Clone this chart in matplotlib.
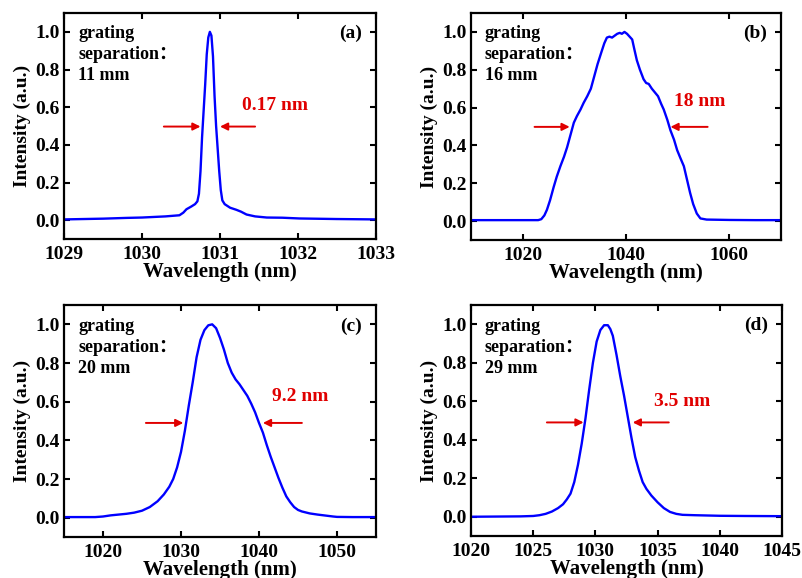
import matplotlib
matplotlib.use("Agg")
import matplotlib.pyplot as plt

plt.rcParams['font.family'] = ['Liberation Serif', 'Noto Sans CJK SC']
plt.rcParams['font.weight'] = 'bold'

# Panel (a): grating separation 11 mm
wl_a = [1029.0, 1029.5, 1029.8, 1030.0, 1030.3, 1030.48, 1030.53, 1030.57, 1030.63, 1030.68,
        1030.71, 1030.73, 1030.75, 1030.77, 1030.79, 1030.81, 1030.83, 1030.85, 1030.87, 1030.89,
        1030.91, 1030.93, 1030.95, 1030.97, 1030.99, 1031.01, 1031.03, 1031.06, 1031.13, 1031.21,
        1031.27, 1031.34, 1031.45, 1031.6, 1031.8, 1032.02, 1032.5, 1033.0]
int_a = [0.004, 0.008, 0.012, 0.014, 0.02, 0.026, 0.04, 0.058, 0.072, 0.085,
         0.10, 0.14, 0.26, 0.44, 0.58, 0.72, 0.88, 0.97, 1.0, 0.98,
         0.87, 0.66, 0.50, 0.38, 0.26, 0.16, 0.105, 0.085, 0.066, 0.055,
         0.045, 0.03, 0.02, 0.014, 0.013, 0.009, 0.006, 0.004]

# Panel (b): grating separation 16 mm
wl_b = [1010, 1015, 1020, 1023.0, 1023.6, 1024.2, 1024.7, 1025.3, 1026.0, 1026.6,
        1027.3, 1028.0, 1028.6, 1029.3, 1029.9, 1030.5, 1031.2, 1031.8, 1032.5, 1033.2,
        1033.8, 1034.5, 1035.2, 1035.8, 1036.3, 1036.8, 1037.3, 1037.8, 1038.3, 1038.8,
        1039.2, 1039.7, 1040.2, 1040.7, 1041.2, 1041.6, 1042.1, 1042.7, 1043.4, 1043.9,
        1044.4, 1045.0, 1045.6, 1046.2, 1046.8, 1047.3, 1048.0, 1048.6, 1049.3, 1049.9,
        1050.5, 1051.2, 1051.8, 1052.4, 1053.0, 1053.7, 1054.4, 1055.6, 1060, 1065, 1070]
int_b = [0.005, 0.005, 0.005, 0.005, 0.01, 0.03, 0.06, 0.11, 0.18, 0.235,
         0.29, 0.34, 0.39, 0.46, 0.52, 0.555, 0.59, 0.625, 0.66, 0.70,
         0.76, 0.83, 0.89, 0.94, 0.97, 0.975, 0.97, 0.98, 0.99, 0.995,
         0.99, 1.0, 0.99, 0.975, 0.96, 0.91, 0.85, 0.80, 0.75, 0.73,
         0.725, 0.70, 0.68, 0.66, 0.62, 0.59, 0.535, 0.48, 0.43, 0.375,
         0.335, 0.29, 0.22, 0.15, 0.09, 0.04, 0.014, 0.008, 0.006, 0.005, 0.005]

# Panel (c): grating separation 20 mm
wl_c = [1015, 1019, 1020, 1021, 1022, 1023, 1024, 1025, 1026, 1027,
        1027.8, 1028.5, 1029.0, 1029.5, 1030.0, 1030.5, 1031.0, 1031.5, 1032.0, 1032.5,
        1033.0, 1033.5, 1034.0, 1034.5, 1035.0, 1035.5, 1036.0, 1036.5, 1037.0, 1037.5,
        1038.0, 1038.5, 1039.0, 1039.5, 1040.0, 1040.5, 1041.0, 1041.5, 1042.0, 1042.5,
        1043.0, 1043.5, 1044.0, 1044.5, 1045.0, 1045.5, 1046.5, 1047.5, 1048.5, 1049.5,
        1050, 1052, 1055]
int_c = [0.003, 0.003, 0.006, 0.012, 0.016, 0.02, 0.026, 0.036, 0.055, 0.085,
         0.12, 0.16, 0.20, 0.26, 0.34, 0.45, 0.58, 0.70, 0.83, 0.92,
         0.97, 0.995, 1.0, 0.98, 0.93, 0.87, 0.80, 0.75, 0.715, 0.69,
         0.66, 0.63, 0.59, 0.545, 0.49, 0.44, 0.375, 0.315, 0.26, 0.205,
         0.155, 0.11, 0.08, 0.055, 0.04, 0.032, 0.022, 0.016, 0.011, 0.006,
         0.004, 0.003, 0.003]

# Panel (d): grating separation 29 mm
wl_d = [1020, 1022, 1024, 1025, 1025.5, 1026, 1026.5, 1027.0, 1027.4, 1027.7,
        1028.0, 1028.3, 1028.6, 1028.9, 1029.2, 1029.5, 1029.8, 1030.1, 1030.4, 1030.7,
        1031.0, 1031.2, 1031.4, 1031.7, 1032.0, 1032.3, 1032.6, 1032.9, 1033.2, 1033.5,
        1033.8, 1034.1, 1034.5, 1035.0, 1035.5, 1036.0, 1036.5, 1037.0, 1038.0, 1040.0,
        1042.0, 1045.0]
int_d = [0.0, 0.001, 0.002, 0.004, 0.008, 0.015, 0.027, 0.045, 0.065, 0.09,
         0.12, 0.18, 0.27, 0.38, 0.51, 0.66, 0.80, 0.91, 0.97, 0.995,
         0.995, 0.975, 0.94, 0.84, 0.73, 0.63, 0.52, 0.41, 0.31, 0.24,
         0.18, 0.145, 0.11, 0.075, 0.045, 0.025, 0.015, 0.01, 0.008, 0.005,
         0.004, 0.003]

panels = [
    dict(x=wl_a, y=int_a, xlim=(1029, 1033), xticks=[1029, 1030, 1031, 1032, 1033],
         label='(a)', sep='11 mm', fwhm='0.17 nm',
         larrow=(1030.28, 1030.75), rarrow=(1031.45, 1031.0), ay=0.497, txt=(1031.7, 0.61)),
    dict(x=wl_b, y=int_b, xlim=(1010, 1070), xticks=[1020, 1040, 1060],
         label='(b)', sep='16 mm', fwhm='18 nm',
         larrow=(1022.3, 1029.1), rarrow=(1055.8, 1048.6), ay=0.498, txt=(1054.2, 0.63)),
    dict(x=wl_c, y=int_c, xlim=(1015, 1055), xticks=[1020, 1030, 1040, 1050],
         label='(c)', sep='20 mm', fwhm='9.2 nm',
         larrow=(1025.5, 1030.3), rarrow=(1045.5, 1040.5), ay=0.49, txt=(1045.3, 0.625)),
    dict(x=wl_d, y=int_d, xlim=(1020, 1045), xticks=[1020, 1025, 1030, 1035, 1040, 1045],
         label='(d)', sep='29 mm', fwhm='3.5 nm',
         larrow=(1026.1, 1029.05), rarrow=(1035.9, 1033.0), ay=0.49, txt=(1037.0, 0.60)),
]

positions = [
    [64/803, 1-239/578, 312/803, 226/578],
    [471/803, 1-240/578, 310/803, 227/578],
    [64/803, 1-537/578, 312/803, 232/578],
    [471/803, 1-536/578, 311/803, 231/578],
]

red = '#e00000'
fig = plt.figure(figsize=(8.03, 5.78), dpi=100)
for p, pos in zip(panels, positions):
    ax = fig.add_axes(pos)
    ax.plot(p['x'], p['y'], color='#0000ff', lw=1.7)
    ax.set_xlim(*p['xlim'])
    ax.set_ylim(-0.1, 1.1)
    ax.set_xticks(p['xticks'])
    ax.set_yticks([0.0, 0.2, 0.4, 0.6, 0.8, 1.0])
    ax.set_yticklabels(['0.0', '0.2', '0.4', '0.6', '0.8', '1.0'])
    ax.tick_params(direction='in', top=True, right=True, length=4, width=1.5,
                   labelsize=14)
    ax.tick_params(axis='x', pad=5)
    ax.tick_params(axis='y', pad=3)
    for lbl in ax.get_xticklabels() + ax.get_yticklabels():
        lbl.set_fontweight('bold')
    for s in ax.spines.values():
        s.set_linewidth(1.6)
    ax.set_xlabel('Wavelength (nm)', fontsize=15, fontweight='bold', labelpad=-1)
    ax.set_ylabel('Intensity (a.u.)', fontsize=14, fontweight='bold', labelpad=3)
    ax.text(0.045, 0.945, 'grating\nseparation：\n' + p['sep'], transform=ax.transAxes,
            ha='left', va='top', fontsize=13, fontweight='bold', linespacing=1.3,
            family=['Liberation Serif', 'Noto Sans CJK SC'])
    ax.text(0.955, 0.91, p['label'], transform=ax.transAxes, ha='right', va='center',
            fontsize=14, fontweight='bold')
    ay = p['ay']
    for (x0, x1) in (p['larrow'], p['rarrow']):
        ax.annotate('', xy=(x1, ay), xytext=(x0, ay),
                    arrowprops=dict(arrowstyle='-|>', color=red, lw=1.4,
                                    mutation_scale=11, shrinkA=0, shrinkB=0))
    ax.text(p['txt'][0], p['txt'][1], p['fwhm'], color=red, ha='center', va='center',
            fontsize=14, fontweight='bold')

fig.savefig('out.png', dpi=100)
